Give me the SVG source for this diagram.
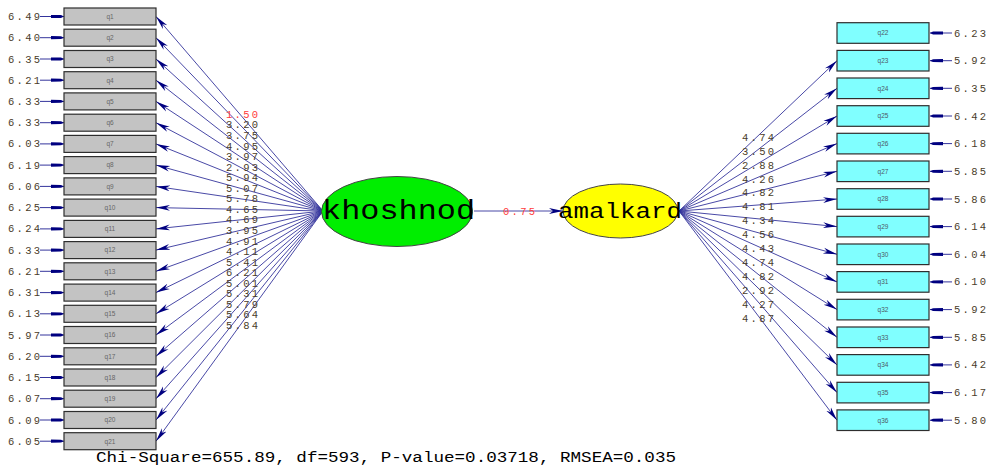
<svg xmlns="http://www.w3.org/2000/svg" width="987" height="466" viewBox="0 0 987 466">
  <style>
    .obs { stroke: #2e2e2e; stroke-width: 1.2; }
    .obsL { fill: #c3c3c3; }
    .obsR { fill: #80ffff; }
    .qname { font-family: "Liberation Sans", Arial, sans-serif; font-size: 6.5px; text-anchor: middle; }
    .qL { fill: #666666; }
    .qR { fill: #4e5a66; }
    .num { font-family: "Liberation Mono", "Courier New", monospace; font-size: 10.5px; letter-spacing: 2.3px; fill: #4a3c2a; }
    .red { fill: #ff3b3b; }
    .path { stroke: #34349c; stroke-width: 0.9; fill: none; marker-end: url(#head); }
    .err { stroke: #34349c; stroke-width: 1; fill: none; marker-end: url(#ehead); }
    .lat { font-family: "Liberation Mono", "Courier New", monospace; fill: #000000; }
    .fit { font-family: "Liberation Mono", "Courier New", monospace; font-size: 14px; fill: #000000; }
  </style>
  <defs>
    <marker id="head" markerUnits="userSpaceOnUse" markerWidth="15" markerHeight="8" refX="14" refY="3.5" orient="auto">
      <path d="M0,0.6 L14,3.5 L0,6.4 L4,3.5 z" fill="#000080"/>
    </marker>
    <marker id="ehead" markerUnits="userSpaceOnUse" markerWidth="14" markerHeight="6" refX="13" refY="2.5" orient="auto">
      <path d="M0,0.9 L10,1.1 L13,2.5 L10,3.9 L0,4.1 z" fill="#000080"/>
    </marker>
  </defs>

  <rect width="987" height="466" fill="#ffffff"/>

  <!-- structural path and factor loadings -->
  <g id="connectors">
    <line class="path" x1="474" y1="211" x2="563" y2="211"/>
    <!-- khoshnod -> q1..q21 -->
    <line class="path" x1="323" y1="211" x2="156" y2="16.5"/>
    <line class="path" x1="323" y1="211" x2="156" y2="37.7"/>
    <line class="path" x1="323" y1="211" x2="156" y2="59.0"/>
    <line class="path" x1="323" y1="211" x2="156" y2="80.2"/>
    <line class="path" x1="323" y1="211" x2="156" y2="101.4"/>
    <line class="path" x1="323" y1="211" x2="156" y2="122.7"/>
    <line class="path" x1="323" y1="211" x2="156" y2="143.9"/>
    <line class="path" x1="323" y1="211" x2="156" y2="165.1"/>
    <line class="path" x1="323" y1="211" x2="156" y2="186.4"/>
    <line class="path" x1="323" y1="211" x2="156" y2="207.6"/>
    <line class="path" x1="323" y1="211" x2="156" y2="228.9"/>
    <line class="path" x1="323" y1="211" x2="156" y2="250.1"/>
    <line class="path" x1="323" y1="211" x2="156" y2="271.3"/>
    <line class="path" x1="323" y1="211" x2="156" y2="292.6"/>
    <line class="path" x1="323" y1="211" x2="156" y2="313.8"/>
    <line class="path" x1="323" y1="211" x2="156" y2="335.0"/>
    <line class="path" x1="323" y1="211" x2="156" y2="356.3"/>
    <line class="path" x1="323" y1="211" x2="156" y2="377.5"/>
    <line class="path" x1="323" y1="211" x2="156" y2="398.7"/>
    <line class="path" x1="323" y1="211" x2="156" y2="420.0"/>
    <line class="path" x1="323" y1="211" x2="156" y2="441.2"/>
    <!-- amalkard -> q23..q36 -->
    <line class="path" x1="679" y1="211" x2="837" y2="60.7"/>
    <line class="path" x1="679" y1="211" x2="837" y2="88.3"/>
    <line class="path" x1="679" y1="211" x2="837" y2="116.0"/>
    <line class="path" x1="679" y1="211" x2="837" y2="143.6"/>
    <line class="path" x1="679" y1="211" x2="837" y2="171.3"/>
    <line class="path" x1="679" y1="211" x2="837" y2="199.0"/>
    <line class="path" x1="679" y1="211" x2="837" y2="226.6"/>
    <line class="path" x1="679" y1="211" x2="837" y2="254.3"/>
    <line class="path" x1="679" y1="211" x2="837" y2="281.9"/>
    <line class="path" x1="679" y1="211" x2="837" y2="309.6"/>
    <line class="path" x1="679" y1="211" x2="837" y2="337.3"/>
    <line class="path" x1="679" y1="211" x2="837" y2="364.9"/>
    <line class="path" x1="679" y1="211" x2="837" y2="392.6"/>
    <line class="path" x1="679" y1="211" x2="837" y2="420.2"/>
    <!-- error terms, left -->
    <line class="err" x1="40" y1="16.5" x2="64" y2="16.5"/>
    <line class="err" x1="40" y1="37.7" x2="64" y2="37.7"/>
    <line class="err" x1="40" y1="59.0" x2="64" y2="59.0"/>
    <line class="err" x1="40" y1="80.2" x2="64" y2="80.2"/>
    <line class="err" x1="40" y1="101.4" x2="64" y2="101.4"/>
    <line class="err" x1="40" y1="122.7" x2="64" y2="122.7"/>
    <line class="err" x1="40" y1="143.9" x2="64" y2="143.9"/>
    <line class="err" x1="40" y1="165.1" x2="64" y2="165.1"/>
    <line class="err" x1="40" y1="186.4" x2="64" y2="186.4"/>
    <line class="err" x1="40" y1="207.6" x2="64" y2="207.6"/>
    <line class="err" x1="40" y1="228.9" x2="64" y2="228.9"/>
    <line class="err" x1="40" y1="250.1" x2="64" y2="250.1"/>
    <line class="err" x1="40" y1="271.3" x2="64" y2="271.3"/>
    <line class="err" x1="40" y1="292.6" x2="64" y2="292.6"/>
    <line class="err" x1="40" y1="313.8" x2="64" y2="313.8"/>
    <line class="err" x1="40" y1="335.0" x2="64" y2="335.0"/>
    <line class="err" x1="40" y1="356.3" x2="64" y2="356.3"/>
    <line class="err" x1="40" y1="377.5" x2="64" y2="377.5"/>
    <line class="err" x1="40" y1="398.7" x2="64" y2="398.7"/>
    <line class="err" x1="40" y1="420.0" x2="64" y2="420.0"/>
    <line class="err" x1="40" y1="441.2" x2="64" y2="441.2"/>
    <!-- error terms, right -->
    <line class="err" x1="952" y1="33.0" x2="930" y2="33.0"/>
    <line class="err" x1="952" y1="60.7" x2="930" y2="60.7"/>
    <line class="err" x1="952" y1="88.3" x2="930" y2="88.3"/>
    <line class="err" x1="952" y1="116.0" x2="930" y2="116.0"/>
    <line class="err" x1="952" y1="143.6" x2="930" y2="143.6"/>
    <line class="err" x1="952" y1="171.3" x2="930" y2="171.3"/>
    <line class="err" x1="952" y1="199.0" x2="930" y2="199.0"/>
    <line class="err" x1="952" y1="226.6" x2="930" y2="226.6"/>
    <line class="err" x1="952" y1="254.3" x2="930" y2="254.3"/>
    <line class="err" x1="952" y1="281.9" x2="930" y2="281.9"/>
    <line class="err" x1="952" y1="309.6" x2="930" y2="309.6"/>
    <line class="err" x1="952" y1="337.3" x2="930" y2="337.3"/>
    <line class="err" x1="952" y1="364.9" x2="930" y2="364.9"/>
    <line class="err" x1="952" y1="392.6" x2="930" y2="392.6"/>
    <line class="err" x1="952" y1="420.2" x2="930" y2="420.2"/>
  </g>

  <!-- loading estimates -->
  <g id="loadings">
    <text class="num red" x="503" y="215">0.75</text>
    <text class="num red" x="226" y="117.8">1.50</text>
    <text class="num" x="226" y="128.4">3.20</text>
    <text class="num" x="226" y="139.0">3.75</text>
    <text class="num" x="226" y="149.5">4.95</text>
    <text class="num" x="226" y="160.0">3.97</text>
    <text class="num" x="226" y="170.6">2.93</text>
    <text class="num" x="226" y="181.2">5.94</text>
    <text class="num" x="226" y="191.7">5.07</text>
    <text class="num" x="226" y="202.3">5.78</text>
    <text class="num" x="226" y="212.8">4.65</text>
    <text class="num" x="226" y="223.4">4.69</text>
    <text class="num" x="226" y="233.9">3.95</text>
    <text class="num" x="226" y="244.5">4.91</text>
    <text class="num" x="226" y="255.0">4.11</text>
    <text class="num" x="226" y="265.6">5.41</text>
    <text class="num" x="226" y="276.1">6.21</text>
    <text class="num" x="226" y="286.7">5.01</text>
    <text class="num" x="226" y="297.3">5.31</text>
    <text class="num" x="226" y="307.8">5.79</text>
    <text class="num" x="226" y="318.4">5.64</text>
    <text class="num" x="226" y="328.9">5.84</text>

    <text class="num" x="742" y="140.8">4.74</text>
    <text class="num" x="742" y="154.7">3.50</text>
    <text class="num" x="742" y="168.6">2.88</text>
    <text class="num" x="742" y="182.5">4.26</text>
    <text class="num" x="742" y="196.4">4.82</text>
    <text class="num" x="742" y="210.3">4.81</text>
    <text class="num" x="742" y="224.2">4.34</text>
    <text class="num" x="742" y="238.1">4.56</text>
    <text class="num" x="742" y="252.0">4.43</text>
    <text class="num" x="742" y="265.9">4.74</text>
    <text class="num" x="742" y="279.8">4.82</text>
    <text class="num" x="742" y="293.7">2.92</text>
    <text class="num" x="742" y="307.6">4.27</text>
    <text class="num" x="742" y="321.5">4.87</text>
  </g>

  <!-- latent variables -->
  <g id="khoshnod">
    <ellipse cx="397" cy="211.5" rx="75.5" ry="35" fill="#00ee00" stroke="#444444" stroke-width="1"/>
    <text class="lat" x="322" y="219" font-size="28" textLength="153" lengthAdjust="spacingAndGlyphs">khoshnod</text>
  </g>
  <g id="amalkard">
    <ellipse cx="620.5" cy="211" rx="57.5" ry="27" fill="#ffff00" stroke="#444444" stroke-width="1"/>
    <text class="lat" x="558" y="218" font-size="22" textLength="124" lengthAdjust="spacingAndGlyphs">amalkard</text>
  </g>

  <!-- observed indicators of khoshnod -->
  <g id="q1"><rect class="obs obsL" x="64" y="8" width="92" height="17"/><text class="qname qL" x="110" y="18.8">q1</text><text class="num" x="8" y="20">6.49</text></g>
  <g id="q2"><rect class="obs obsL" x="64" y="29.2" width="92" height="17"/><text class="qname qL" x="110" y="40">q2</text><text class="num" x="8" y="41.2">6.40</text></g>
  <g id="q3"><rect class="obs obsL" x="64" y="50.5" width="92" height="17"/><text class="qname qL" x="110" y="61.3">q3</text><text class="num" x="8" y="62.5">6.35</text></g>
  <g id="q4"><rect class="obs obsL" x="64" y="71.7" width="92" height="17"/><text class="qname qL" x="110" y="82.5">q4</text><text class="num" x="8" y="83.7">6.21</text></g>
  <g id="q5"><rect class="obs obsL" x="64" y="92.9" width="92" height="17"/><text class="qname qL" x="110" y="103.7">q5</text><text class="num" x="8" y="104.9">6.33</text></g>
  <g id="q6"><rect class="obs obsL" x="64" y="114.2" width="92" height="17"/><text class="qname qL" x="110" y="125">q6</text><text class="num" x="8" y="126.2">6.33</text></g>
  <g id="q7"><rect class="obs obsL" x="64" y="135.4" width="92" height="17"/><text class="qname qL" x="110" y="146.2">q7</text><text class="num" x="8" y="147.4">6.03</text></g>
  <g id="q8"><rect class="obs obsL" x="64" y="156.6" width="92" height="17"/><text class="qname qL" x="110" y="167.4">q8</text><text class="num" x="8" y="168.6">6.19</text></g>
  <g id="q9"><rect class="obs obsL" x="64" y="177.9" width="92" height="17"/><text class="qname qL" x="110" y="188.7">q9</text><text class="num" x="8" y="189.9">6.06</text></g>
  <g id="q10"><rect class="obs obsL" x="64" y="199.1" width="92" height="17"/><text class="qname qL" x="110" y="209.9">q10</text><text class="num" x="8" y="211.1">6.25</text></g>
  <g id="q11"><rect class="obs obsL" x="64" y="220.4" width="92" height="17"/><text class="qname qL" x="110" y="231.2">q11</text><text class="num" x="8" y="232.4">6.24</text></g>
  <g id="q12"><rect class="obs obsL" x="64" y="241.6" width="92" height="17"/><text class="qname qL" x="110" y="252.4">q12</text><text class="num" x="8" y="253.6">6.33</text></g>
  <g id="q13"><rect class="obs obsL" x="64" y="262.8" width="92" height="17"/><text class="qname qL" x="110" y="273.6">q13</text><text class="num" x="8" y="274.8">6.21</text></g>
  <g id="q14"><rect class="obs obsL" x="64" y="284.1" width="92" height="17"/><text class="qname qL" x="110" y="294.9">q14</text><text class="num" x="8" y="296.1">6.31</text></g>
  <g id="q15"><rect class="obs obsL" x="64" y="305.3" width="92" height="17"/><text class="qname qL" x="110" y="316.1">q15</text><text class="num" x="8" y="317.3">6.13</text></g>
  <g id="q16"><rect class="obs obsL" x="64" y="326.5" width="92" height="17"/><text class="qname qL" x="110" y="337.3">q16</text><text class="num" x="8" y="338.5">5.97</text></g>
  <g id="q17"><rect class="obs obsL" x="64" y="347.8" width="92" height="17"/><text class="qname qL" x="110" y="358.6">q17</text><text class="num" x="8" y="359.8">6.20</text></g>
  <g id="q18"><rect class="obs obsL" x="64" y="369" width="92" height="17"/><text class="qname qL" x="110" y="379.8">q18</text><text class="num" x="8" y="381">6.15</text></g>
  <g id="q19"><rect class="obs obsL" x="64" y="390.2" width="92" height="17"/><text class="qname qL" x="110" y="401">q19</text><text class="num" x="8" y="402.2">6.07</text></g>
  <g id="q20"><rect class="obs obsL" x="64" y="411.5" width="92" height="17"/><text class="qname qL" x="110" y="422.3">q20</text><text class="num" x="8" y="423.5">6.09</text></g>
  <g id="q21"><rect class="obs obsL" x="64" y="432.7" width="92" height="17"/><text class="qname qL" x="110" y="443.5">q21</text><text class="num" x="8" y="444.7">6.05</text></g>

  <!-- observed indicators of amalkard -->
  <g id="q22"><rect class="obs obsR" x="837" y="22.7" width="92" height="20.6"/><text class="qname qR" x="883" y="35.3">q22</text><text class="num" x="954" y="36.5">6.23</text></g>
  <g id="q23"><rect class="obs obsR" x="837" y="50.4" width="92" height="20.6"/><text class="qname qR" x="883" y="63">q23</text><text class="num" x="954" y="64.2">5.92</text></g>
  <g id="q24"><rect class="obs obsR" x="837" y="78" width="92" height="20.6"/><text class="qname qR" x="883" y="90.6">q24</text><text class="num" x="954" y="91.8">6.35</text></g>
  <g id="q25"><rect class="obs obsR" x="837" y="105.7" width="92" height="20.6"/><text class="qname qR" x="883" y="118.3">q25</text><text class="num" x="954" y="119.5">6.42</text></g>
  <g id="q26"><rect class="obs obsR" x="837" y="133.3" width="92" height="20.6"/><text class="qname qR" x="883" y="145.9">q26</text><text class="num" x="954" y="147.1">6.18</text></g>
  <g id="q27"><rect class="obs obsR" x="837" y="161" width="92" height="20.6"/><text class="qname qR" x="883" y="173.6">q27</text><text class="num" x="954" y="174.8">5.85</text></g>
  <g id="q28"><rect class="obs obsR" x="837" y="188.7" width="92" height="20.6"/><text class="qname qR" x="883" y="201.3">q28</text><text class="num" x="954" y="202.5">5.86</text></g>
  <g id="q29"><rect class="obs obsR" x="837" y="216.3" width="92" height="20.6"/><text class="qname qR" x="883" y="228.9">q29</text><text class="num" x="954" y="230.1">6.14</text></g>
  <g id="q30"><rect class="obs obsR" x="837" y="244" width="92" height="20.6"/><text class="qname qR" x="883" y="256.6">q30</text><text class="num" x="954" y="257.8">6.04</text></g>
  <g id="q31"><rect class="obs obsR" x="837" y="271.6" width="92" height="20.6"/><text class="qname qR" x="883" y="284.2">q31</text><text class="num" x="954" y="285.4">6.10</text></g>
  <g id="q32"><rect class="obs obsR" x="837" y="299.3" width="92" height="20.6"/><text class="qname qR" x="883" y="311.9">q32</text><text class="num" x="954" y="313.1">5.92</text></g>
  <g id="q33"><rect class="obs obsR" x="837" y="327" width="92" height="20.6"/><text class="qname qR" x="883" y="339.6">q33</text><text class="num" x="954" y="340.8">5.85</text></g>
  <g id="q34"><rect class="obs obsR" x="837" y="354.6" width="92" height="20.6"/><text class="qname qR" x="883" y="367.2">q34</text><text class="num" x="954" y="368.4">6.42</text></g>
  <g id="q35"><rect class="obs obsR" x="837" y="382.3" width="92" height="20.6"/><text class="qname qR" x="883" y="394.9">q35</text><text class="num" x="954" y="396.1">6.17</text></g>
  <g id="q36"><rect class="obs obsR" x="837" y="409.9" width="92" height="20.6"/><text class="qname qR" x="883" y="422.5">q36</text><text class="num" x="954" y="423.7">5.80</text></g>

  <!-- goodness-of-fit line -->
  <text class="fit" x="96" y="461.5" textLength="580" lengthAdjust="spacingAndGlyphs">Chi-Square=655.89, df=593, P-value=0.03718, RMSEA=0.035</text>
</svg>
